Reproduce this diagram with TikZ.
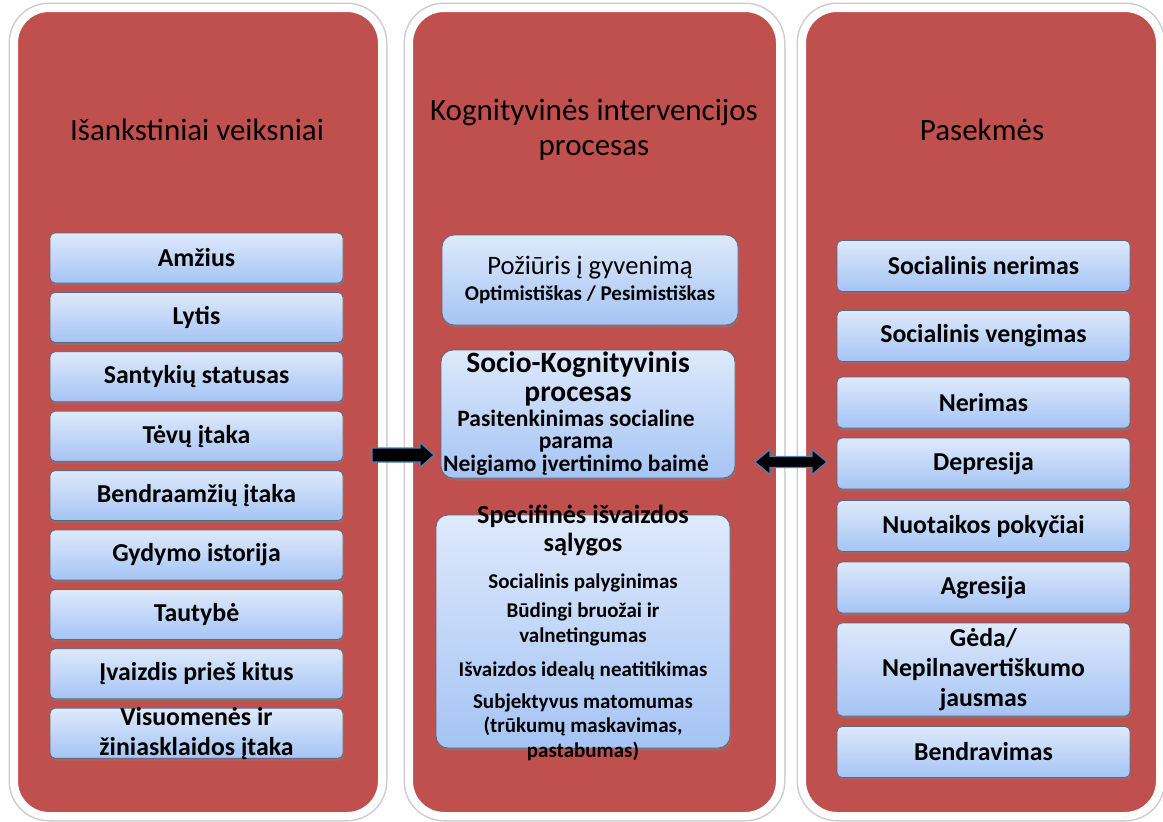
\documentclass[tikz,border=0pt]{standalone}
\usepackage{fontspec}
\setmainfont{Carlito}
\usetikzlibrary{shadows,calc}
\definecolor{panelred}{RGB}{192,80,77}
\definecolor{boxtop}{RGB}{222,233,251}
\definecolor{boxbot}{RGB}{165,196,244}
\definecolor{boxline}{RGB}{90,105,130}
\definecolor{arrowblue}{RGB}{79,129,189}
\newcommand\fsz[2]{\fontsize{#1}{#2}\selectfont}
\begin{document}
\begin{tikzpicture}[x=1pt,y=-1pt,
 panel/.style={draw=white, line width=8pt, fill=panelred, rounded corners=35pt,
   preaction={draw=black!20, line width=11pt}, inner sep=0pt, outer sep=0pt},
 item/.style={draw=boxline, line width=0.8pt, rounded corners=5pt, top color=boxtop,
   bottom color=boxbot, minimum width=293pt, minimum height=50pt, inner xsep=0pt,
   inner ysep=-8pt, align=center, font=\bfseries\fsz{25.8}{30},
   drop shadow={shadow xshift=1pt, shadow yshift=-2.5pt, opacity=0.45}},
 mbox/.style={item, rounded corners=12pt},
 title/.style={font=\fsz{31}{35}, align=center, inner sep=0pt},
 txt/.style={align=center, inner sep=0pt},
 bigb/.style={txt, font=\bfseries\fsz{26.2}{28}},
 smallb/.style={txt, font=\bfseries\fsz{21}{24.5}},
 arrowshape/.style={fill=black, draw=arrowblue, line width=1.2pt, line join=miter},
]
\fill[white] (0,0) rectangle (1163,822);
\useasboundingbox (0,0) rectangle (1163,822);

% panels
\node[panel, minimum width=368pt, minimum height=808pt] (P1) at (198,412) {};
\node[panel, minimum width=371pt, minimum height=808pt] (P2) at (594.5,412) {};
\node[panel, minimum width=358pt, minimum height=808pt] (P3) at (981,412) {};

% titles
\node[title] (T1) at (197,130) {Išankstiniai veiksniai};
\node[title] (T2) at (594,129.5) {Kognityvinės intervencijos\\procesas};
\node[title] (T3) at (982,130) {Pasekmės};

% left items
\foreach \t [count=\i] in {Amžius, Lytis, Santykių statusas, Tėvų įtaka, Bendraamžių įtaka,
  Gydymo istorija, Tautybė, Įvaizdis prieš kitus, {Visuomenės ir\\žiniasklaidos įtaka}}
  \node[item] (L\i) at (196.5,{258+59.4*(\i-1)}) {\t};

% right items
\node[item, minimum height=51pt] (R1) at (983.5,266) {Socialinis nerimas};
\node[item, minimum height=51pt] (R2) at (983.5,336) {Socialinis vengimas};
\node[item, minimum height=51pt] (R3) at (983.5,402.5) {Nerimas};
\node[item, minimum height=51pt] (R4) at (983.5,463.5) {Depresija};
\node[item, minimum height=51pt] (R5) at (983.5,526) {Nuotaikos pokyčiai};
\node[item, minimum height=51pt] (R6) at (983.5,587.5) {Agresija};
\node[item, minimum height=93pt] (R7) at (983.5,669.5) {Gėda/\\Nepilnavertiškumo\\jausmas};
\node[item, minimum height=51pt] (R8) at (983.5,752) {Bendravimas};

% middle boxes
\node[mbox, minimum width=296pt, minimum height=90pt] (B1) at (590,280) {};
\node[mbox, minimum width=294pt, minimum height=128pt] (B2) at (588,414) {};
\node[mbox, minimum width=294pt, minimum height=233pt] (B3) at (583,631.5) {};

\node[txt, font=\fsz{26.6}{30}] (B1a) at (590,268) {Požiūris į gyvenimą};
\node[smallb] (B1b) at (590,295) {Optimistiškas / Pesimistiškas};
\node[bigb, font=\bfseries\fsz{29.5}{29}] (B2a) at (578,378.5) {Socio-Kognityvinis\\procesas};
\node[smallb, font=\bfseries\fsz{23.5}{22.5}] (B2b) at (576,442.5) {Pasitenkinimas socialine\\parama\\Neigiamo įvertinimo baimė};
\node[bigb] (B3a) at (583,531) {Specifinės išvaizdos\\sąlygos};
\node[smallb] (B3b) at (583,583) {Socialinis palyginimas};
\node[smallb, font=\bfseries\fsz{21}{25}] (B3c) at (583,624.5) {Būdingi bruožai ir\\valnetingumas};
\node[smallb] (B3d) at (583,671) {Išvaizdos idealų neatitikimas};
\node[smallb] (B3e) at (583,727) {Subjektyvus matomumas\\(trūkumų maskavimas,\\pastabumas)};

% arrows
\coordinate (A1s) at (372,455);
\coordinate (A1t) at (434,455);
\draw[arrowshape] ($(A1s)+(0,-7)$) -- ($(A1t)+(-14,-7)$) -- ($(A1t)+(-14,-12.5)$) -- (A1t)
  -- ($(A1t)+(-14,12.5)$) -- ($(A1t)+(-14,7)$) -- ($(A1s)+(0,7)$) -- cycle;

\coordinate (A2s) at (755,462);
\coordinate (A2t) at (827,462);
\draw[arrowshape] (A2s) -- ($(A2s)+(15,-12.5)$) -- ($(A2s)+(15,-5.5)$) -- ($(A2t)+(-15,-5.5)$)
  -- ($(A2t)+(-15,-12.5)$) -- (A2t) -- ($(A2t)+(-15,12.5)$) -- ($(A2t)+(-15,5.5)$)
  -- ($(A2s)+(15,5.5)$) -- ($(A2s)+(15,12.5)$) -- cycle;
\end{tikzpicture}
\end{document}
